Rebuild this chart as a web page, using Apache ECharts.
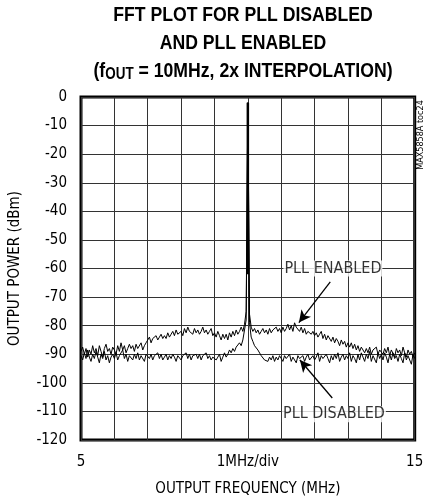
<!DOCTYPE html>
<html>
<head>
<meta charset="utf-8">
<script src="https://cdn.jsdelivr.net/npm/echarts@6/dist/echarts.min.js"></script>
<style>
html,body{margin:0;padding:0;background:#fff;}
#chart{width:428px;height:504px;}
</style>
</head>
<body>
<div id="chart"></div>
<script>
// ---- data ----
var freqStart = 5, freqStep = 0.05;          // MHz, sweep sampling
var pllEnabled = [
 -89,-87.5,-90,-88,-91,-88.5,-90,-87,-89.5,-88,
 -90.5,-87,-89,-91,-88,-86.5,-89,-88,-90,-87.5,
 -88.5,-90,-87,-89,-86,-88.5,-87,-89.5,-88,-86.5,
 -88,-87,-89,-86.5,-88,-87.5,-86,-88.5,-87,-86,
 -85.5,-84,-86,-84.5,-85,-83.5,-85,-84,-83,-84.5,
 -83.5,-84.5,-82.5,-84,-83,-82,-83.5,-81.5,-83,-82.5,
 -82,-83.5,-81,-82.5,-80.5,-82,-81.5,-83,-81,-82.5,
 -81.5,-83,-82,-80.5,-82.5,-81.5,-83,-82,-81,-83.5,
 -82.5,-84,-82,-83.5,-85,-83,-84.5,-83,-85,-82.5,
 -84,-82,-83.5,-81.5,-83,-82,-80.5,-82,-79.5,-75,
 -2,
 -76,-80.5,-82,-81,-82.5,-81.5,-83,-82,-81,-82.5,
 -81.5,-83,-81,-82.5,-81.5,-82,-80.5,-82,-81,-82.5,
 -80.5,-82,-81,-79.5,-81.5,-80,-82,-79,-80.5,-81,
 -82,-80.5,-82.5,-81,-83,-82,-81.5,-83,-82,-83.5,
 -82.5,-84,-83,-82,-84.5,-83,-85,-83.5,-84,-85.5,
 -84,-86,-84.5,-85.5,-87,-85,-86.5,-85.5,-87.5,-86,
 -87.5,-86,-88,-86.5,-88.5,-87,-89,-87.5,-88,-89.5,
 -88,-89.5,-87.5,-90,-88.5,-89,-87.5,-90,-88.5,-89,
 -90,-88,-89.5,-87.5,-90.5,-88.5,-89,-91,-88,-89.5,
 -88.5,-90.5,-87.5,-89.5,-91,-88.5,-90,-89,-91,-89.5
];
var pllDisabled = [
 -90.5,-92,-89.5,-91.5,-88.5,-91,-92.5,-90,-91.5,-89,
 -91,-93,-90,-91.5,-89,-92,-90.5,-93,-91,-90,
 -91.5,-89.5,-92,-90.5,-91,-88.5,-91.5,-90,-92.5,-90.5,
 -91,-92,-90,-91.5,-89.5,-92,-90.5,-91,-92.5,-90,
 -90.5,-91.5,-90,-92,-90.5,-91,-89.5,-91.5,-90,-92,
 -91,-90,-92,-90.5,-91.5,-90,-91,-92.5,-90.5,-91,
 -92,-90.5,-91,-89.5,-91.5,-90,-92,-90.5,-91,-90,
 -91.5,-90,-92,-90.5,-91,-89.5,-91.5,-90.5,-92,-91,
 -90.5,-92,-91,-90,-92.5,-91,-89.5,-91,-90,-88.5,
 -89.5,-88,-89,-87.5,-88,-86,-87,-85,-84.5,-78,
 -2,
 -79,-84,-85.5,-87,-86.5,-88.5,-89,-90.5,-91,-92,
 -91.5,-92.5,-91,-92,-90.5,-92.5,-91,-92,-90.5,-91.5,
 -92.5,-90.5,-91.5,-92,-90,-92.5,-91,-91.5,-93,-90.5,
 -91.5,-92,-90.5,-92.5,-91,-90,-92,-91.5,-90.5,-92,
 -91,-89.5,-92.5,-90.5,-91.5,-92,-90,-91.5,-93,-90.5,
 -92,-90,-91.5,-89.5,-92.5,-91,-90,-92,-90.5,-91.5,
 -89.5,-92.5,-90.5,-91.5,-93,-90,-92,-89.5,-91,-92.5,
 -90,-91.5,-89,-92.5,-90.5,-91,-93,-89.5,-91.5,-90,
 -92,-89.5,-91,-93,-90,-92,-89.5,-91.5,-90.5,-92.5,
 -90,-91.5,-93,-89.5,-92,-90.5,-91,-93.5,-90,-91.5
];
var carrierFreq = 10, carrierTop = -2, carrierSolidTo = -62;   // fundamental tone (MHz, dBm)
var xTickLabels = {5: '5', 10: '1MHz/div', 15: '15'};
var titleLines = ['FFT PLOT FOR PLL DISABLED', 'AND PLL ENABLED', '(f{sub|OUT} = 10MHz, 2x INTERPOLATION)'];
var labelTexts = ['PLL ENABLED', 'PLL DISABLED'];
var labelPos = [[12.55, -60], [12.58, -111]];
var arrowFrom = [[12.47, -64.7], [12.53, -105.3]];
var arrowTo = [[11.53, -78.9], [11.56, -92.0]];
var sideNote = 'MAX5858A toc24';

// ---- build ----
var FONT = "'DejaVu Sans Condensed','Liberation Sans',sans-serif";
var TFONT = "'Liberation Sans',sans-serif";
function toPairs(arr){ return arr.map(function(v,i){ return [+(freqStart + i*freqStep).toFixed(2), v]; }); }

var titleY = [15, 43, 71];
var titleGraphics = titleLines.map(function(t, i){
  return {type:'text', x:243, y:titleY[i], scaleX:0.84,
    style:{text:t, fontFamily:TFONT, fontSize:21, fontWeight:'bold', fill:'#000', align:'center', verticalAlign:'middle',
      rich:{sub:{fontFamily:TFONT, fontSize:16, fontWeight:'bold', fill:'#000', padding:[7,0,0,0]}}}};
});

var chart = echarts.init(document.getElementById('chart'), null, {renderer:'canvas'});
chart.setOption({
  animation:false,
  backgroundColor:'#fff',
  grid:{left:72.7, right:13.3, top:97, bottom:64, show:true, borderColor:'#000', borderWidth:3, backgroundColor:'transparent'},
  xAxis:{
    type:'value', min:5, max:15, interval:1,
    name:'OUTPUT FREQUENCY (MHz)', nameLocation:'middle', nameGap:42,
    nameTextStyle:{fontFamily:FONT, fontSize:15, color:'#000'},
    axisLine:{show:false}, axisTick:{show:false},
    axisLabel:{fontFamily:FONT, fontSize:15, color:'#000', margin:15,
      formatter:function(v){ return xTickLabels[v] || ''; }},
    splitLine:{show:true, lineStyle:{color:'#333', width:1}}
  },
  yAxis:{
    type:'value', min:-120, max:0, interval:10,
    name:'OUTPUT POWER (dBm)', nameLocation:'middle', nameGap:58,
    nameTextStyle:{fontFamily:FONT, fontSize:15, color:'#000'},
    axisLine:{show:false}, axisTick:{show:false},
    axisLabel:{fontFamily:FONT, fontSize:15, color:'#000', margin:14},
    splitLine:{show:true, lineStyle:{color:'#333', width:1}}
  },
  series:[
    {type:'line', name:'PLL ENABLED', data:toPairs(pllEnabled), showSymbol:false, symbol:'none',
      lineStyle:{color:'#000', width:1}, z:3},
    {type:'line', name:'PLL DISABLED', data:toPairs(pllDisabled), showSymbol:false, symbol:'none',
      lineStyle:{color:'#000', width:1}, z:3,
      markLine:{silent:true, symbol:['none','arrow'], symbolSize:[9,12],
        lineStyle:{color:'#000', width:1.3, type:'solid'}, label:{show:false},
        data: arrowFrom.map(function(a,i){ return [{coord:a},{coord:arrowTo[i]}]; })}
    },
    {type:'line', name:'carrier', data:[[carrierFreq, carrierSolidTo],[carrierFreq, carrierTop]],
      showSymbol:false, symbol:'none', lineStyle:{color:'#000', width:2.5}, z:4},
    {type:'scatter', data: labelPos.map(function(p,i){ return {value:p, name:labelTexts[i]}; }),
      symbolSize:0, z:5,
      label:{show:true, position:'inside', formatter:'{b}', fontFamily:FONT, fontSize:16, color:'#000',
        backgroundColor:'#fff', padding:[0,1,0,1]}}
  ],
  graphic: titleGraphics.concat([
    {type:'text', x:421, y:135, rotation:Math.PI/2,
      style:{text:sideNote, fontFamily:FONT, fontSize:9, fill:'#000', align:'center', verticalAlign:'middle'}}
  ])
});
</script>
</body>
</html>
